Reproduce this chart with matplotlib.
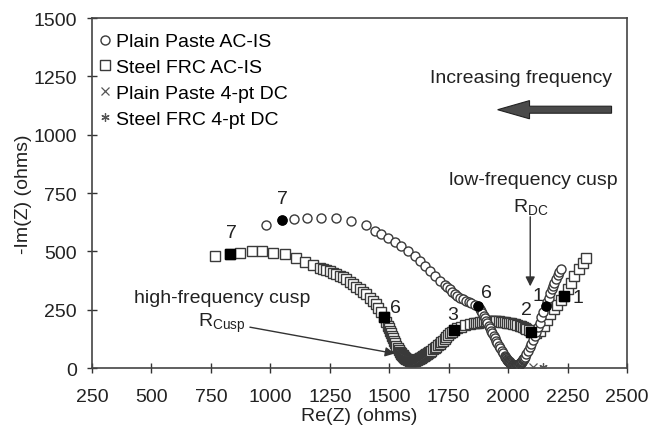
import matplotlib
matplotlib.use("Agg")
import matplotlib.pyplot as plt
from matplotlib.patches import FancyArrow

plt.rcParams['font.family'] = ['Liberation Sans', 'DejaVu Sans']

# Plain paste AC impedance spectrum (Re, -Im), ohms
plain_re = [981, 1049, 1100, 1156, 1212, 1275, 1341, 1404, 1439, 1467, 1495, 1523,
            1551, 1579, 1607, 1628, 1649, 1670, 1691, 1712, 1733, 1743, 1754, 1765,
            1775, 1786, 1796, 1810, 1824, 1835, 1845, 1859, 1873, 1880, 1887, 1892,
            1897, 1902, 1908, 1913, 1918, 1923, 1929, 1934, 1939, 1945, 1950, 1955,
            1961, 1967, 1973, 1979, 1985, 1988, 1990, 1992, 1995, 1997, 1999, 2000,
            2002, 2004, 2006, 2007, 2009, 2011, 2013, 2014, 2016, 2018, 2020, 2021,
            2023, 2025, 2027, 2029, 2030, 2032, 2034, 2036, 2037, 2039, 2041, 2042,
            2044, 2046, 2048, 2050, 2051, 2053, 2055, 2057, 2058, 2060, 2062, 2064,
            2065, 2067, 2069, 2076, 2083, 2090, 2097, 2104, 2111, 2118,
            2125, 2132, 2139, 2148, 2158, 2164, 2171, 2178, 2184, 2190, 2195, 2202,
            2209, 2216, 2223]
plain_im = [615, 635, 638, 645, 645, 645, 631, 615, 587, 573, 558, 540,
            523, 501, 480, 459, 437, 416, 394, 373, 355, 347, 338, 327,
            316, 309, 302, 295, 288, 283, 278, 272, 266, 255, 245, 235,
            224, 213, 202, 192, 181, 170, 160, 149, 138, 128, 117, 106,
            95, 85, 74, 63, 53, 48, 45, 42, 38, 35, 31, 30,
            28, 26, 24, 22, 20, 19, 17, 16, 15, 14, 13, 12,
            12, 11, 11, 10, 10, 10, 10, 10, 11, 11, 12, 13,
            14, 15, 17, 18, 20, 22, 24, 26, 29, 31, 34, 37,
            40, 43, 46, 60, 74, 88, 103, 120, 138, 156,
            174, 195, 217, 240, 264, 283, 302, 320, 338, 352, 366, 382,
            397, 410, 423]

# Steel FRC AC impedance spectrum (Re, -Im), ohms
steel_re = [767, 830, 872, 921, 963, 1012, 1061, 1107, 1145, 1180, 1208, 1222,
            1236, 1250, 1264, 1278, 1292, 1306, 1320, 1334, 1348, 1362, 1376, 1390,
            1404, 1418, 1432, 1443, 1453, 1465, 1477, 1486, 1495, 1499, 1504, 1508,
            1513, 1517, 1521, 1526, 1530, 1535, 1540, 1545, 1548, 1551, 1553, 1556,
            1558, 1561, 1563, 1565, 1568, 1572, 1575, 1579, 1582, 1586, 1589, 1593,
            1596, 1600, 1603, 1607, 1610, 1614, 1617, 1621, 1624, 1628, 1631, 1635,
            1638, 1642, 1645, 1649, 1652, 1656, 1659, 1663, 1666, 1670, 1677, 1684,
            1691, 1698, 1705, 1712, 1719, 1726, 1733, 1740, 1747, 1755, 1763, 1771,
            1787, 1803, 1820, 1838, 1855, 1864, 1873, 1881, 1890, 1899, 1908, 1916,
            1925, 1934, 1943, 1951, 1960, 1969, 1978, 1986, 1995, 2004, 2013, 2021,
            2030, 2039, 2048, 2055, 2062, 2069, 2076, 2086, 2097, 2107, 2118,
            2135, 2149, 2163, 2177, 2191, 2205, 2221, 2237, 2251,
            2265, 2279, 2297, 2314, 2328]
steel_im = [480, 487, 494, 501, 501, 494, 487, 473, 455, 440, 430, 425,
            420, 414, 408, 402, 395, 388, 380, 370, 359, 348, 338, 327,
            316, 302, 288, 274, 259, 238, 217, 199, 181, 172, 160, 150,
            138, 128, 117, 106, 95, 86, 78, 68, 64, 60, 57, 54,
            51, 48, 46, 44, 41, 38, 37, 35, 34, 33, 32, 31,
            31, 31, 31, 32, 33, 35, 36, 37, 39, 41, 43, 45,
            47, 50, 52, 55, 57, 60, 62, 65, 67, 70, 75, 81,
            86, 92, 97, 103, 110, 117, 124, 131, 140, 148, 156, 164,
            171, 177, 183, 188, 192, 193, 195, 197, 199, 200, 202, 202,
            202, 202, 202, 201, 200, 199, 198, 197, 195, 194, 192, 190,
            187, 184, 181, 178, 174, 171, 167, 161, 155, 152, 150,
            160, 181, 206, 231, 252, 272, 290, 309, 338,
            366, 394, 423, 449, 473]

# Four-point DC resistances (plotted on the real axis)
plain_dc = [2105, 5]
steel_dc = [2148, 5]

# Frequency-marked points: label, Re, -Im
plain_marks_lbl = ['7', '6', '1']
plain_marks_re = [1049, 1873, 2158]
plain_marks_im = [635, 266, 264]
steel_marks_lbl = ['7', '6', '3', '2', '1']
steel_marks_re = [830, 1477, 1771, 2097, 2237]
steel_marks_im = [487, 217, 164, 155, 309]

x_ticks = [250, 500, 750, 1000, 1250, 1500, 1750, 2000, 2250, 2500]
y_ticks = [0, 250, 500, 750, 1000, 1250, 1500]

FS = 14
TXT = '#222222'

fig = plt.figure(figsize=(6.48, 4.35), dpi=100)
ax = fig.add_axes([0.142, 0.1517, 0.8256, 0.8046])

edge = '#3a3a3a'
ax.plot(plain_re, plain_im, linestyle='none', marker='o', markersize=6.5,
        markerfacecolor='white', markeredgecolor=edge, markeredgewidth=1.0,
        label='Plain Paste AC-IS', zorder=3)
ax.plot(steel_re, steel_im, linestyle='none', marker='s', markersize=7,
        markerfacecolor='white', markeredgecolor=edge, markeredgewidth=1.0,
        label='Steel FRC AC-IS', zorder=2)
ax.plot([plain_dc[0]], [plain_dc[1]], linestyle='none', marker='x', markersize=6,
        color='#555555', markeredgewidth=0.9, label='Plain Paste 4-pt DC', zorder=4)
ax.plot([steel_dc[0]], [steel_dc[1]], linestyle='none', marker=(6, 2, 0), markersize=6,
        color='#555555', markeredgewidth=0.9, label='Steel FRC 4-pt DC', zorder=4)

ax.plot(plain_marks_re, plain_marks_im, linestyle='none', marker='o', markersize=6.5,
        color='black', zorder=5)
ax.plot(steel_marks_re, steel_marks_im, linestyle='none', marker='s', markersize=7,
        color='black', zorder=5)

# Point labels
lbl_kw = dict(fontsize=FS, color=TXT, zorder=6)
ax.text(1052, 690, '7', ha='center', va='bottom', **lbl_kw)
ax.text(838, 545, '7', ha='center', va='bottom', **lbl_kw)
ax.text(1908, 323, '6', ha='center', va='center', **lbl_kw)
ax.text(1527, 259, '6', ha='center', va='center', **lbl_kw)
ax.text(1768, 231, '3', ha='center', va='center', **lbl_kw)
ax.text(2079, 252, '2', ha='center', va='center', **lbl_kw)
ax.text(2125, 309, '1', ha='center', va='center', **lbl_kw)
ax.text(2293, 302, '1', ha='center', va='center', **lbl_kw)

# Annotations
ax.text(2053, 1243, 'Increasing frequency', ha='center', va='center', fontsize=FS, color=TXT)
ax.add_patch(FancyArrow(2435, 1107, -479, 0, width=30, head_width=78, head_length=134,
                        length_includes_head=True, facecolor='#4a4a4a',
                        edgecolor='#222222', linewidth=0.8, zorder=5))

ax.text(2108, 807, 'low-frequency cusp', ha='center', va='center', fontsize=FS, color=TXT)
ax.text(2095, 692, r'R$_{\mathregular{DC}}$', ha='center', va='center', fontsize=FS, color=TXT)
ax.annotate('', xy=(2093, 350), xytext=(2093, 648),
            arrowprops=dict(arrowstyle='-|>', color='#333333', lw=1.0,
                            mutation_scale=14, shrinkA=0, shrinkB=0))

ax.text(796, 303, 'high-frequency cusp', ha='center', va='center', fontsize=FS, color=TXT)
ax.text(796, 196, r'R$_{\mathregular{Cusp}}$', ha='center', va='center', fontsize=FS, color=TXT)
ax.annotate('', xy=(1523, 62), xytext=(914, 175),
            arrowprops=dict(arrowstyle='-|>', color='#333333', lw=1.0,
                            mutation_scale=14, shrinkA=0, shrinkB=0))

ax.set_xlim(250, 2500)
ax.set_ylim(0, 1500)
ax.set_xticks(x_ticks)
ax.set_yticks(y_ticks)
ax.tick_params(direction='inout', length=7, width=1.0, labelsize=FS,
               colors='#333333', labelcolor=TXT)
ax.tick_params(axis='x', pad=11)
ax.tick_params(axis='y', pad=7.5)
for s in ax.spines.values():
    s.set_color('#444444')
    s.set_linewidth(1.2)
ax.set_xlabel('Re(Z) (ohms)', fontsize=FS, color=TXT, labelpad=1)
ax.set_ylabel('-Im(Z) (ohms)', fontsize=FS, color=TXT, labelpad=1)

leg = ax.legend(loc='upper left', bbox_to_anchor=(0.01, 0.958), frameon=False,
                fontsize=FS, handletextpad=0.15, handlelength=0.8,
                labelspacing=0.43, borderaxespad=0.0, borderpad=0.0)

fig.savefig('out.png', dpi=100)
